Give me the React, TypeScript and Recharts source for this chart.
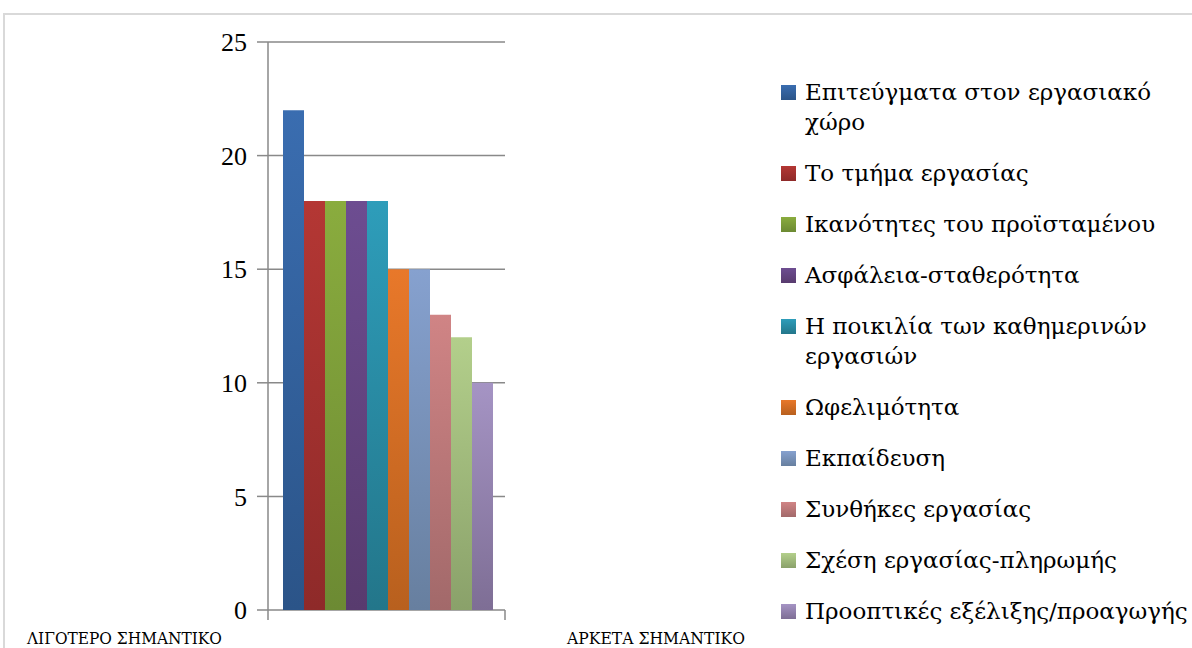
import { Bar, BarChart, CartesianGrid, Legend, ReferenceLine, XAxis, YAxis } from "recharts";

const categories = ["Σύνολο"];
const seriesNames = [
  "Επιτεύγματα στον εργασιακό χώρο",
  "Το τμήμα εργασίας",
  "Ικανότητες του προϊσταμένου",
  "Ασφάλεια-σταθερότητα",
  "Η ποικιλία των καθημερινών εργασιών",
  "Ωφελιμότητα",
  "Εκπαίδευση",
  "Συνθήκες εργασίας",
  "Σχέση εργασίας-πληρωμής",
  "Προοπτικές εξέλιξης/προαγωγής",
];
const seriesValues = [22, 18, 18, 18, 18, 15, 15, 13, 12, 10];
const yTicks = [0, 5, 10, 15, 20, 25];
const leftNote = "ΛΙΓΟΤΕΡΟ ΣΗΜΑΝΤΙΚΟ";
const rightNote = "ΑΡΚΕΤΑ ΣΗΜΑΝΤΙΚΟ";

const topColors = ["#3A6DB0", "#B43734", "#8AAC3E", "#6D4D91", "#2E9DBA", "#E8782A", "#86A1CF", "#D08485", "#B3CF8B", "#A594C4"];
const bottomColors = ["#2B5488", "#8E2A29", "#6C8A33", "#583B6E", "#23768A", "#B8601E", "#677F9F", "#A2696A", "#8AA16A", "#7E6E95"];

const data = categories.map((cat) => {
  const row: Record<string, string | number> = { cat };
  seriesValues.forEach((v, i) => (row[`s${i}`] = v));
  return row;
});

const SERIF = "'Liberation Serif', 'DejaVu Serif', serif";
const GREEK = "'DejaVu Serif', serif";
const GRID = "#898989";

function LegendBox({ payload }: any) {
  return (
    <div style={{ fontFamily: GREEK, fontSize: 23, color: "#000", textAlign: "left" }}>
      {(payload || []).map((p: any) => {
        const i = Number(String(p.dataKey).slice(1));
        return (
          <div key={p.value} style={{ display: "flex", alignItems: "flex-start", marginBottom: 21 }}>
            <span
              style={{
                flex: "none",
                width: 15,
                height: 15,
                marginTop: 8,
                marginRight: 9,
                background: `linear-gradient(${topColors[i]}, ${bottomColors[i]})`,
              }}
            />
            <span style={{ lineHeight: "30px", maxWidth: 392 }}>{p.value}</span>
          </div>
        );
      })}
    </div>
  );
}

export default function App() {
  return (
    <div style={{ position: "absolute", left: 0, top: 0, width: 1192, height: 648, overflow: "hidden", background: "#fff" }}>
      <div style={{ position: "absolute", left: 3, top: 13, width: 1200, height: 700, border: "2px solid #d9d9d9" }} />
      <BarChart
        width={1192}
        height={648}
        data={data}
        margin={{ top: 42, right: 687, left: 0, bottom: 38 }}
        barCategoryGap={15}
        barGap={0}
        style={{ position: "absolute", left: 0, top: 0 }}
      >
        <defs>
          {topColors.map((c, i) => (
            <linearGradient key={i} id={`g${i}`} x1="0" y1="0" x2="0" y2="1">
              <stop offset="0%" stopColor={c} />
              <stop offset="100%" stopColor={bottomColors[i]} />
            </linearGradient>
          ))}
        </defs>
        <CartesianGrid vertical={false} stroke={GRID} strokeWidth={1.5} />
        <XAxis dataKey="cat" height={0} tick={false} tickLine={false} axisLine={{ stroke: GRID, strokeWidth: 1.5 }} />
        <YAxis
          domain={[0, 25]}
          ticks={yTicks}
          width={268}
          tickSize={11}
          tickMargin={10}
          axisLine={{ stroke: GRID, strokeWidth: 1.5 }}
          tickLine={{ stroke: GRID, strokeWidth: 1.5 }}
          tick={{ fill: "#000", fontSize: 26, fontFamily: SERIF }}
        />
        {/* category boundary tick marks below the axis */}
        {categories.map((c) => (
          <ReferenceLine
            key={`${c}-start`}
            segment={[{ x: c, y: 0 }, { x: c, y: -0.44 }]}
            position="start"
            ifOverflow="visible"
            stroke={GRID}
            strokeWidth={1.5}
          />
        ))}
        {categories.map((c) => (
          <ReferenceLine
            key={`${c}-end`}
            segment={[{ x: c, y: 0 }, { x: c, y: -0.44 }]}
            position="end"
            ifOverflow="visible"
            stroke={GRID}
            strokeWidth={1.5}
          />
        ))}
        <Legend
          layout="vertical"
          align="center"
          verticalAlign="middle"
          itemSorter={null}
          content={LegendBox}
          wrapperStyle={{ left: 781, top: 77, width: 411 }}
        />
        {seriesNames.map((name, i) => (
          <Bar key={name} dataKey={`s${i}`} name={name} fill={`url(#g${i})`} isAnimationActive={false} />
        ))}
      </BarChart>
      <svg width={1192} height={648} style={{ position: "absolute", left: 0, top: 0, pointerEvents: "none" }}>
        <text x={27} y={644} fontFamily={GREEK} fontSize={17} textLength={195} lengthAdjust="spacingAndGlyphs">
          {leftNote}
        </text>
        <text x={567} y={644} fontFamily={GREEK} fontSize={17} textLength={178} lengthAdjust="spacingAndGlyphs">
          {rightNote}
        </text>
      </svg>
    </div>
  );
}
